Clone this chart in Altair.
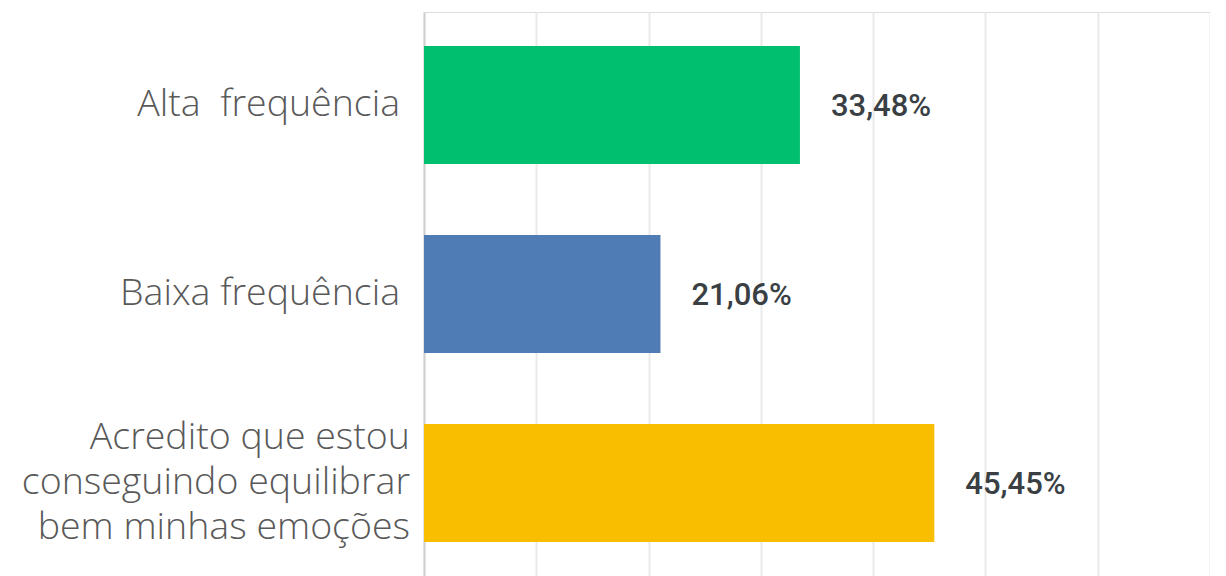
import altair as alt
import pandas as pd

categories = ["Alta\u00a0 frequência", "Baixa frequência",
              "Acredito que estou\nconseguindo equilibrar\nbem minhas emoções"]
values = [33.48, 21.06, 45.45]
colors = ["#00bf6f", "#507cb6", "#f9be00"]

df = pd.DataFrame({"cat": categories, "value": values, "color": colors})

y_enc = alt.Y("cat:N", sort=None, title=None,
              scale=alt.Scale(paddingInner=0.375, paddingOuter=0.18),
              axis=alt.Axis(labels=False, ticks=False,
                            domainColor="#d0d0d0", domainWidth=2, grid=False))
x_enc = alt.X("value:Q", title=None,
              scale=alt.Scale(domain=[0, 70], nice=False),
              axis=alt.Axis(values=list(range(0, 71, 10)), labels=False,
                            ticks=False, domain=False, grid=True,
                            gridColor="#e9e9e9", gridWidth=2))

base = alt.Chart(df)

bars = base.mark_bar().encode(
    x=x_enc, y=y_enc,
    color=alt.Color("color:N", scale=None),
)

label_style = dict(align="right", baseline="middle", lineBreak="\n",
                   lineHeight=45, font="Open Sans", fontSize=37.5,
                   fontWeight=300, color="#595959")

single_labels = base.transform_filter(
    "indexof(datum.cat, '\\n') < 0"
).mark_text(**label_style).encode(
    x=alt.value(-24), y=alt.Y("cat:N", sort=None), text="cat:N")

multi_labels = base.transform_filter(
    "indexof(datum.cat, '\\n') >= 0"
).mark_text(dy=-45, **label_style).encode(
    x=alt.value(-14), y=alt.Y("cat:N", sort=None), text="cat:N")

text = base.transform_calculate(
    lbl="replace(format(datum.value, '.2f'), '.', ',') + '%'"
).mark_text(align="left", baseline="middle", dx=31, dy=2, font="Roboto",
            fontSize=31, fontWeight=500, color="#3a3f44").encode(
    x="value:Q", y=alt.Y("cat:N", sort=None), text="lbl:N")

chart = (bars + single_labels + multi_labels + text).properties(
    width=786, height=564,
    autosize=alt.AutoSizeParams(type="none"),
    padding={"left": 416, "top": 4, "right": 0, "bottom": 0},
).configure_view(stroke=None).configure(background="white")

chart.save("out.html", embed_options={"renderer": "svg", "actions": False})
